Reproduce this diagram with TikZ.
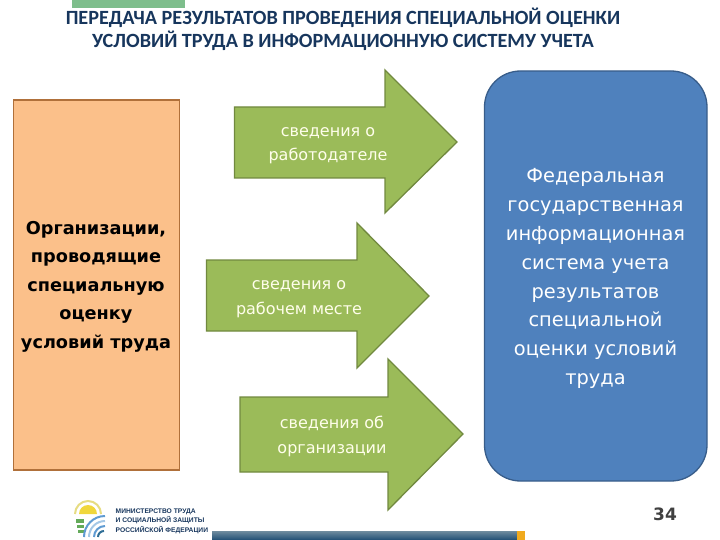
\documentclass[tikz,border=0pt]{standalone}
\usepackage{fontspec}
\setmainfont{DejaVu Sans}
\newfontfamily\titlefont{Carlito}
\newfontfamily\logofont{Liberation Sans}
\definecolor{arrowfill}{HTML}{9BBB59}
\definecolor{arrowline}{HTML}{71893F}
\definecolor{boxblue}{HTML}{4F81BD}
\definecolor{boxblueline}{HTML}{385D8A}
\definecolor{boxorange}{HTML}{FBC08A}
\definecolor{orangeline}{HTML}{B0703A}
\definecolor{titleblue}{HTML}{17365D}
\definecolor{tabgreen}{HTML}{7EBE8C}
\definecolor{barlight}{HTML}{6F8C9F}
\definecolor{bardark}{HTML}{1F4E74}
\definecolor{barorange}{HTML}{F0AA1E}
\definecolor{sunyellow}{HTML}{F0D73C}
\definecolor{sunpale}{HTML}{E6DC82}
\definecolor{logogreen}{HTML}{64AA5A}
\definecolor{logoblue}{HTML}{5F9BD2}
\definecolor{logopale}{HTML}{A5C8E6}
\definecolor{logodeep}{HTML}{2F6E96}
\tikzset{
  arrowshape/.style={fill=arrowfill,draw=arrowline,line width=1.3pt,line join=miter},
  arrowtext/.style={align=center,text=white!92!yellow,font=\fontsize{16}{24.5}\selectfont},
  titletext/.style={align=center,text=titleblue,font=\titlefont\bfseries\fontsize{20.2}{23}\selectfont},
  logoarc/.style={line width=2pt},
}
\begin{document}
\begin{tikzpicture}[x=1pt,y=-1pt]
\useasboundingbox (0,0) rectangle (720,540);
\fill[tabgreen] (72,0) rectangle (185,8);
\node[titletext] (title) at (343,29) {ПЕРЕДАЧА РЕЗУЛЬТАТОВ ПРОВЕДЕНИЯ СПЕЦИАЛЬНОЙ ОЦЕНКИ\\УСЛОВИЙ ТРУДА В ИНФОРМАЦИОННУЮ СИСТЕМУ УЧЕТА};
\draw[fill=boxorange,draw=orangeline,line width=1.3pt] (13.5,100) rectangle (179.5,470);
\node[align=center,text=black,font=\bfseries\fontsize{17.7}{28.5}\selectfont] (org) at (96,286.5) {Организации,\\проводящие\\специальную\\оценку\\условий труда};
\draw[fill=boxblue,draw=boxblueline,line width=1.3pt,rounded corners=36pt] (484.5,71) rectangle (707,481);
\node[align=center,text=white,font=\fontsize{19.4}{28.9}\selectfont] (fed) at (595.5,278.5) {Федеральная\\государственная\\информационная\\система учета\\результатов\\специальной\\оценки условий\\труда};
\draw[arrowshape] (234.5,107) -- (385,107) -- (385,70) -- (457,142) -- (385,213) -- (385,178) -- (234.5,178) -- cycle;
\node[arrowtext] (a1) at (328,145.5) {сведения о\\работодателе};
\draw[arrowshape] (206.5,260) -- (357,260) -- (357,223) -- (429,296) -- (357,368) -- (357,331) -- (206.5,331) -- cycle;
\node[arrowtext] (a2) at (299,299) {сведения о\\рабочем месте};
\draw[arrowshape] (240,397) -- (388,397) -- (388,359) -- (463,434) -- (388,510) -- (388,472) -- (240,472) -- cycle;
\node[arrowtext] (a3) at (332,436.5) {сведения об\\организации};
\node[text=black!75,font=\bfseries\fontsize{17}{19}\selectfont] (num) at (665,514) {34};
\shade[top color=barlight,bottom color=bardark] (212,531) rectangle (517,540);
\fill[barorange] (517,531) rectangle (525,540);
% logo
\fill[sunyellow] (79,514) arc[start angle=180,end angle=360,radius=9] -- cycle;
\draw[sunpale,logoarc] (75,514) arc[start angle=180,end angle=360,radius=13];
\fill[logogreen] (76,519) rectangle (84,523);
\fill[logogreen] (77,525) rectangle (84,528);
\fill[logogreen] (78,530) rectangle (84,533);
\draw[logoblue,logoarc] (84,537) arc[start angle=180,end angle=270,radius=21];
\draw[logopale,logoarc] (89,537) arc[start angle=180,end angle=270,radius=16];
\draw[logoblue,logoarc] (94,537) arc[start angle=180,end angle=270,radius=11];
\draw[logodeep,logoarc] (98,537) arc[start angle=180,end angle=270,radius=6];
\node[anchor=west,align=left,inner sep=0pt,text=titleblue,font=\logofont\bfseries\fontsize{6.7}{9.6}\selectfont] (logotext) at (115.5,521) {МИНИСТЕРСТВО ТРУДА\\И СОЦИАЛЬНОЙ ЗАЩИТЫ\\РОССИЙСКОЙ ФЕДЕРАЦИИ};
\end{tikzpicture}
\end{document}
